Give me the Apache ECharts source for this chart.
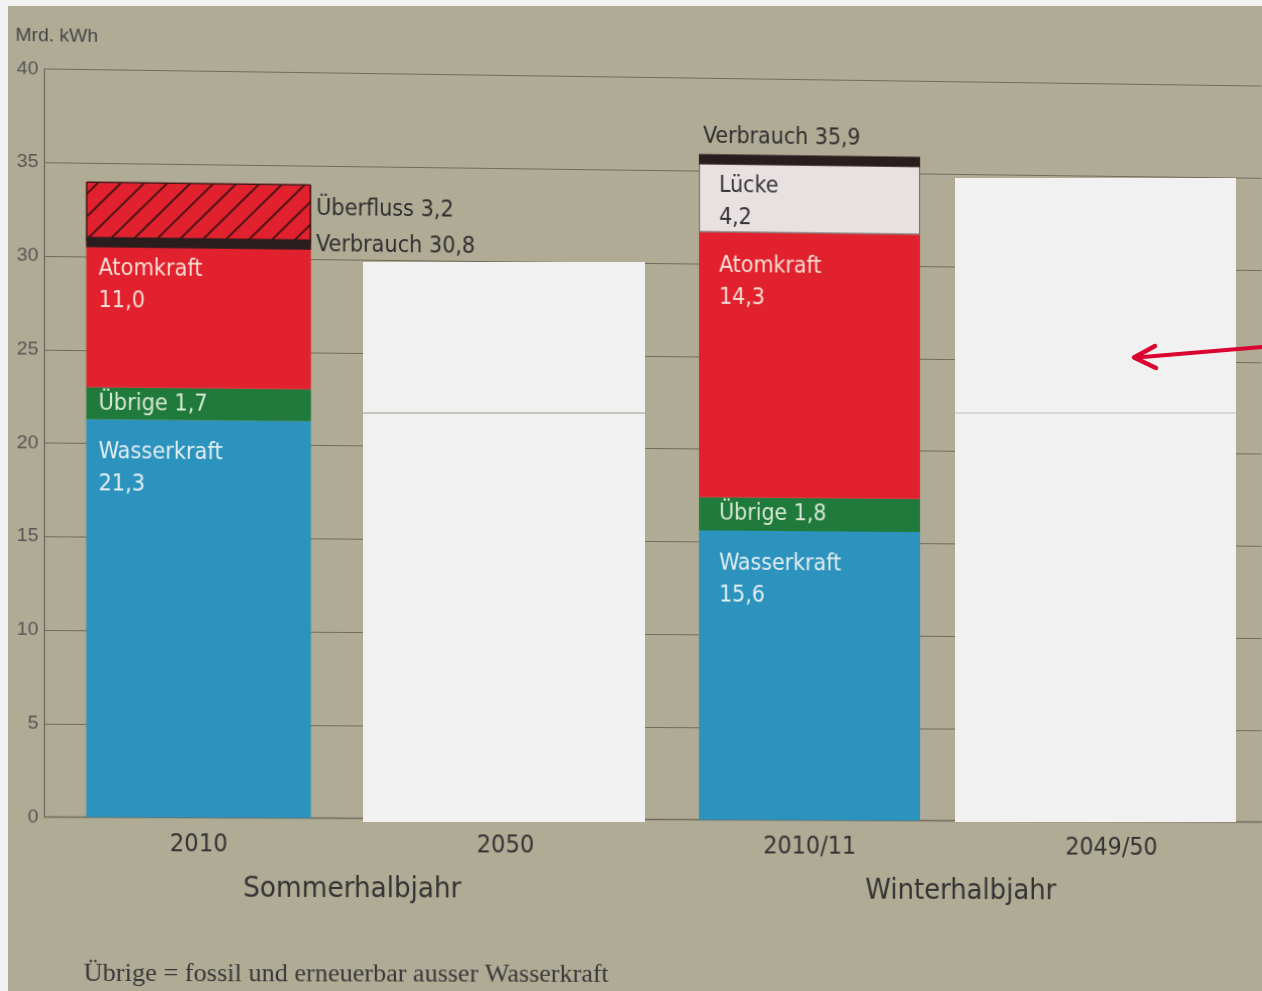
<!DOCTYPE html>
<html><head><meta charset="utf-8">
<script src="https://cdn.jsdelivr.net/npm/echarts@6/dist/echarts.min.js"></script>
<style>
html,body{margin:0;padding:0;background:#f1f1f1;width:1262px;height:991px;overflow:hidden;}
#paper{position:absolute;left:8px;top:6px;width:1254px;height:985px;background:#b0ab95;}
#chart{position:absolute;left:8px;top:6px;width:1254px;height:985px;transform-origin:0 0;}
#overlay{position:absolute;left:0;top:0;width:1262px;height:991px;pointer-events:none;}
</style></head><body>
<div id="paper"></div><div id="chart"></div><div id="overlay"></div>
<script>
// ---- data ----
const categories = ['2010', '2050', '2010/11', '2049/50'];
const groups = ['Sommerhalbjahr', 'Winterhalbjahr'];
const wasserkraft = [21.3, null, 15.6, null];
const uebrige = [1.7, null, 1.8, null];
const atomkraft = [11.0, null, 14.3, null];
const luecke = [null, null, 4.2, null];
const verbrauch = [30.8, null, 35.9, null];
const ueberfluss = [3.2, null, null, null];
const yMin = 0, yMax = 40, yStep = 5;
const yAxisName = 'Mrd. kWh';
const footnote = 'Übrige = fossil und erneuerbar ausser Wasserkraft';

// ---- helpers ----
const NARROW = "'Liberation Sans Narrow','DejaVu Sans Condensed','Roboto Condensed',sans-serif";
const fmt = v => Number(v).toFixed(1).replace('.', ',');
const BAND = 0.55;
const BW = 222;
const padX = i => (i >= 2 ? 20 : 12);
const inLbl = (color) => ({
  show: true, position: [12, 17], align: 'left', verticalAlign: 'top',
  color: color, fontSize: 23, lineHeight: 32, fontFamily: NARROW
});
const withPos = (arr, dyFn) => arr.map((v, i) => v == null ? null :
  { value: v, label: { position: [padX(i), dyFn(i)] } });

// photo perspective: map ideal plot corners to measured ones
function homography(src, dst) {
  const A = [], b = [];
  for (let i = 0; i < 4; i++) {
    const [x, y] = src[i], [u, v] = dst[i];
    A.push([x, y, 1, 0, 0, 0, -u * x, -u * y]); b.push(u);
    A.push([0, 0, 0, x, y, 1, -v * x, -v * y]); b.push(v);
  }
  const n = 8;
  for (let c = 0; c < n; c++) {
    let p = c;
    for (let r = c + 1; r < n; r++) if (Math.abs(A[r][c]) > Math.abs(A[p][c])) p = r;
    [A[c], A[p]] = [A[p], A[c]]; [b[c], b[p]] = [b[p], b[c]];
    for (let r = 0; r < n; r++) {
      if (r === c) continue;
      const f = A[r][c] / A[c][c];
      for (let k = c; k < n; k++) A[r][k] -= f * A[c][k];
      b[r] -= f * b[c];
    }
  }
  return b.map((v, i) => v / A[i][i]);
}
const h = homography(
  [[39, 71.5], [1249, 71.5], [39, 813.5], [1249, 813.5]],
  [[39, 63], [1249, 80], [39, 811], [1249, 816]]
);
document.getElementById('chart').style.transform =
  `matrix3d(${h[0]},${h[3]},0,${h[6]},${h[1]},${h[4]},0,${h[7]},0,0,1,0,${h[2]},${h[5]},0,1)`;

const chart = echarts.init(document.getElementById('chart'), null, {renderer: 'canvas'});
const series = [
  { name: 'Wasserkraft', type: 'bar', stack: 'main', barWidth: BW, barGap: '-100%',
    data: withPos(wasserkraft, () => 17), itemStyle: { color: '#2b93bd' },
    label: Object.assign(inLbl('#e4eef2'), { formatter: p => 'Wasserkraft\n' + fmt(p.value) }) },
  { name: 'Übrige', type: 'bar', stack: 'main', barWidth: BW, barGap: '-100%',
    data: uebrige.map((v, i) => v == null ? null : { value: v, label: { distance: padX(i) } }),
    itemStyle: { color: '#1f7a3c' },
    label: { show: true, position: 'insideLeft', distance: 12, color: '#d8e9d4', fontSize: 23,
      fontFamily: NARROW, formatter: p => 'Übrige ' + fmt(p.value) } },
  { name: 'Atomkraft', type: 'bar', stack: 'main', barWidth: BW, barGap: '-100%',
    data: withPos(atomkraft, i => (ueberfluss[i] != null ? 70 : 18)),
    itemStyle: { color: '#e1222e' },
    label: Object.assign(inLbl('#f8dcd2'), { formatter: p => 'Atomkraft\n' + fmt(p.value) }) },
  { name: 'Lücke', type: 'bar', stack: 'main', barWidth: BW, barGap: '-100%',
    data: withPos(luecke, () => 15), itemStyle: { color: '#e8e0e1', borderColor: '#6e6262', borderWidth: 1 },
    label: Object.assign(inLbl('#333333'), { formatter: p => 'Lücke\n' + fmt(p.value) }) },
  // Überfluss overlay (hatched) above consumption
  { name: 'ovBase', type: 'bar', stack: 'ov', barWidth: BW, barGap: '-100%', silent: true,
    data: ueberfluss.map((v, i) => v == null ? null : verbrauch[i]),
    itemStyle: { color: 'rgba(0,0,0,0)' } },
  { name: 'Überfluss', type: 'bar', stack: 'ov', barWidth: BW, barGap: '-100%',
    data: ueberfluss,
    itemStyle: { color: '#e1222e', borderColor: '#3a1818', borderWidth: 1,
      decal: { symbol: 'rect', symbolSize: 1, color: 'rgba(50,15,15,0.85)',
        dashArrayX: [1, 0], dashArrayY: [1.2, 14], rotation: -Math.PI / 4 } },
    label: { show: true, position: 'right', distance: 5, offset: [0, -5], color: '#2e2e2e',
      fontSize: 23, fontFamily: NARROW, formatter: p => 'Überfluss ' + fmt(p.value) } },
  // Verbrauch band
  { name: 'bandBase', type: 'bar', stack: 'band', barWidth: BW, barGap: '-100%', silent: true,
    data: verbrauch.map((v, i) => v == null ? null : (ueberfluss[i] != null ? v - 0.3 : v - BAND)),
    itemStyle: { color: 'rgba(0,0,0,0)' } },
  { name: 'Verbrauch', type: 'bar', stack: 'band', barWidth: BW, barGap: '-100%',
    data: verbrauch.map((v, i) => v == null ? null : {
      value: BAND,
      label: ueberfluss[i] != null
        ? { position: 'right', distance: 5, formatter: 'Verbrauch ' + fmt(v) }
        : { position: [4, -6], align: 'left', verticalAlign: 'bottom', formatter: 'Verbrauch ' + fmt(v) }
    }),
    itemStyle: { color: '#2a1d1d' },
    label: { show: true, color: '#2e2e2e', fontSize: 23, fontFamily: NARROW } }
];

chart.setOption({
  animation: false,
  backgroundColor: 'transparent',
  title: { text: yAxisName, left: 3, top: 24,
    textStyle: { fontSize: 19, fontWeight: 'normal', color: '#454545', fontFamily: "'Liberation Sans',sans-serif" } },
  grid: { left: 36.5, right: 0.5, top: 71.5, bottom: 171.5, containLabel: false },
  xAxis: [
    { type: 'category', data: categories,
      axisLine: { show: true, lineStyle: { color: '#706b5d', width: 1.3 } },
      axisTick: { show: false },
      axisLabel: { margin: 14, fontSize: 25, color: '#333', fontFamily: NARROW } },
    { type: 'category', data: groups, position: 'bottom', offset: 46,
      axisLine: { show: false }, axisTick: { show: false },
      axisLabel: { margin: 10, fontSize: 29, color: '#333', fontFamily: NARROW } }
  ],
  yAxis: { type: 'value', min: yMin, max: yMax, interval: yStep,
    axisLine: { show: true, lineStyle: { color: '#706b5d', width: 1.3 } },
    axisTick: { show: false },
    splitLine: { show: true, lineStyle: { color: '#706b5d', width: 1.2 } },
    axisLabel: { margin: 6, fontSize: 19, color: '#555', fontFamily: "'Liberation Sans',sans-serif" } },
  graphic: [
    { type: 'text', left: 75, top: 956,
      style: { text: footnote, fontSize: 26, fill: '#383838', fontFamily: "'Liberation Serif','DejaVu Serif',serif" } }
  ],
  series: series
});

// overlay: redaction boxes and arrow (added on top of photo, not distorted)
const ov = echarts.init(document.getElementById('overlay'));
ov.setOption({
  animation: false,
  graphic: [
    { type: 'rect', shape: { x: 363, y: 262, width: 282, height: 560 }, style: { fill: '#f1f1f1' } },
    { type: 'line', shape: { x1: 363, y1: 413, x2: 645, y2: 413 }, style: { stroke: '#b8b4a8', lineWidth: 1.5 } },
    { type: 'rect', shape: { x: 955, y: 178, width: 281, height: 644 }, style: { fill: '#f1f1f1' } },
    { type: 'line', shape: { x1: 955, y1: 413, x2: 1236, y2: 413 }, style: { stroke: '#c4c0b6', lineWidth: 1.2 } },
    { type: 'polyline', shape: { points: [[1262, 347], [1137, 357.5]] },
      style: { stroke: '#d9042f', lineWidth: 4, lineCap: 'round' } },
    { type: 'polyline', shape: { points: [[1155, 346], [1134, 357.5], [1156, 368]] },
      style: { stroke: '#d9042f', lineWidth: 4.5, lineCap: 'round', lineJoin: 'round', fill: null } }
  ]
});
</script>
</body></html>
